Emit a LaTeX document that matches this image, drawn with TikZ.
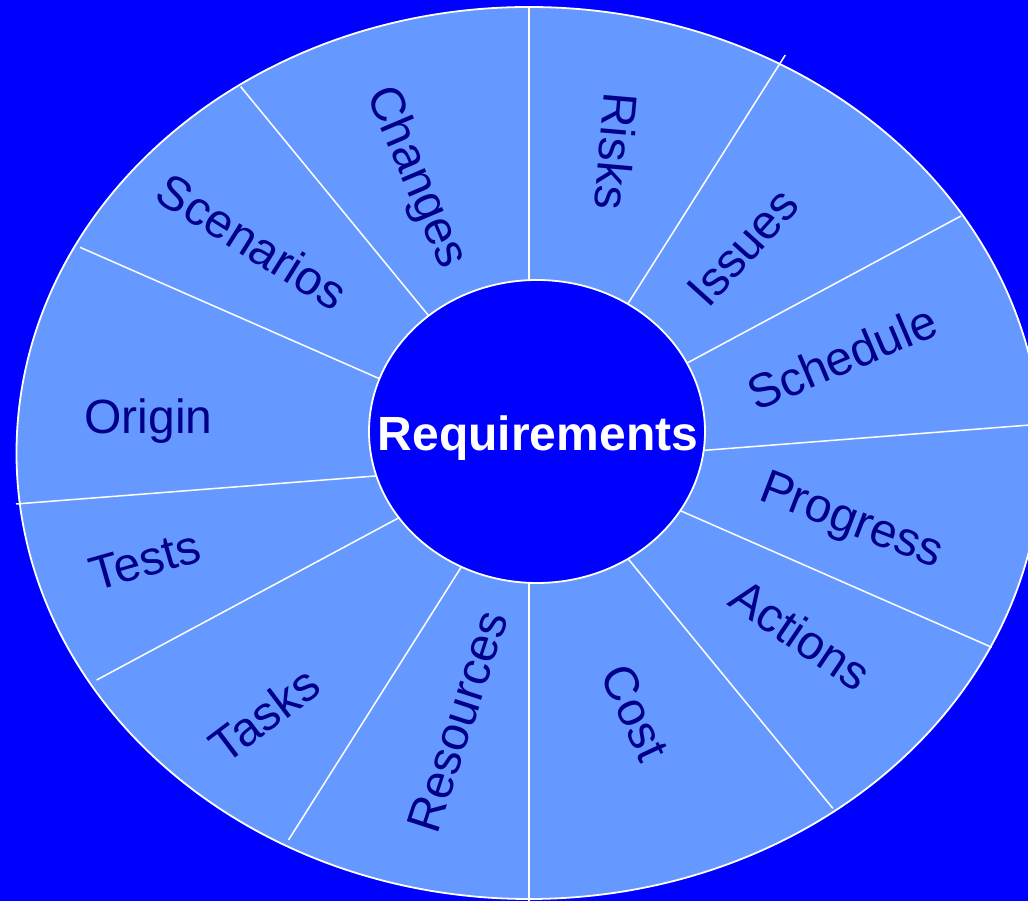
\documentclass[tikz,border=0pt]{standalone}
\usepackage{fontspec}
\setmainfont{Liberation Sans}
\usetikzlibrary{shapes.geometric}
\definecolor{bgblue}{RGB}{0,0,255}
\definecolor{segblue}{RGB}{102,153,255}
\definecolor{labelblue}{RGB}{0,0,139}
\begin{document}
\begin{tikzpicture}[x=1pt,y=1pt,
  seglabel/.style={text=labelblue, font=\fontsize{48}{57}\selectfont, anchor=center,
                   inner sep=0pt, text height=29.5pt, text depth=0pt},
  divider/.style={draw=white, line width=1.5pt},
  rim/.style={draw=white, line width=1.8pt},
  hub/.style={ellipse, draw=white, line width=1.8pt, fill=bgblue, inner sep=0pt,
              minimum width=336pt, minimum height=303pt}]
\useasboundingbox (0,0) rectangle (1028,901);
\clip (0,0) rectangle (1028,901);
\fill[bgblue] (0,0) rectangle (1028,901);
% outer wheel
\node[ellipse, rim, fill=segblue, inner sep=0pt, minimum width=1025pt, minimum height=892pt] (wheel) at (529,448) {};
% divider end points
\coordinate (a1) at (529,894);   \coordinate (a2) at (529,0);
\coordinate (b1) at (240.7,814.3); \coordinate (b2) at (832.8,92.7);
\coordinate (c1) at (80,653.7);  \coordinate (c2) at (991.7,253.7);
\coordinate (d1) at (16,397);    \coordinate (d2) at (1030,476);
\coordinate (e1) at (96.7,221);  \coordinate (e2) at (961,685);
\coordinate (f1) at (288.5,61);  \coordinate (f2) at (785.3,846);
\draw[divider] (a1) -- (a2);
\draw[divider] (b1) -- (b2);
\draw[divider] (c1) -- (c2);
\draw[divider] (d1) -- (d2);
\draw[divider] (e1) -- (e2);
\draw[divider] (f1) -- (f2);
% hub
\node[hub] (hubshape) at (537,469.5) {};
\node[text=white, font=\fontsize{48}{57}\selectfont\bfseries, anchor=base, inner sep=0pt] (req) at (538,450.3) {Requirements};
% labels
\node[seglabel, rotate=-67] (changes) at (417.5,724.3) {Changes};
\node[seglabel, rotate=-95] (risks) at (614,750.2) {Risks};
\node[seglabel, rotate=48] (issues) at (744.2,652.7) {Issues};
\node[seglabel, rotate=23] (schedule) at (843,541.8) {Schedule};
\node[seglabel, rotate=-21] (progress) at (852,381) {Progress};
\node[seglabel, rotate=-34] (actions) at (799.5,264.3) {Actions};
\node[seglabel, rotate=-65] (cost) at (633.8,187.8) {Cost};
\node[seglabel, rotate=72] (resources) at (459,178.8) {Resources};
\node[seglabel, rotate=37] (tasks) at (265.5,184.5) {Tasks};
\node[seglabel, rotate=16] (tests) at (145.2,339.3) {Tests};
\node[seglabel] (origin) at (148.5,482) {Origin};
\node[seglabel, rotate=-32] (scenarios) at (251.2,657.7) {Scenarios};
\end{tikzpicture}
\end{document}
